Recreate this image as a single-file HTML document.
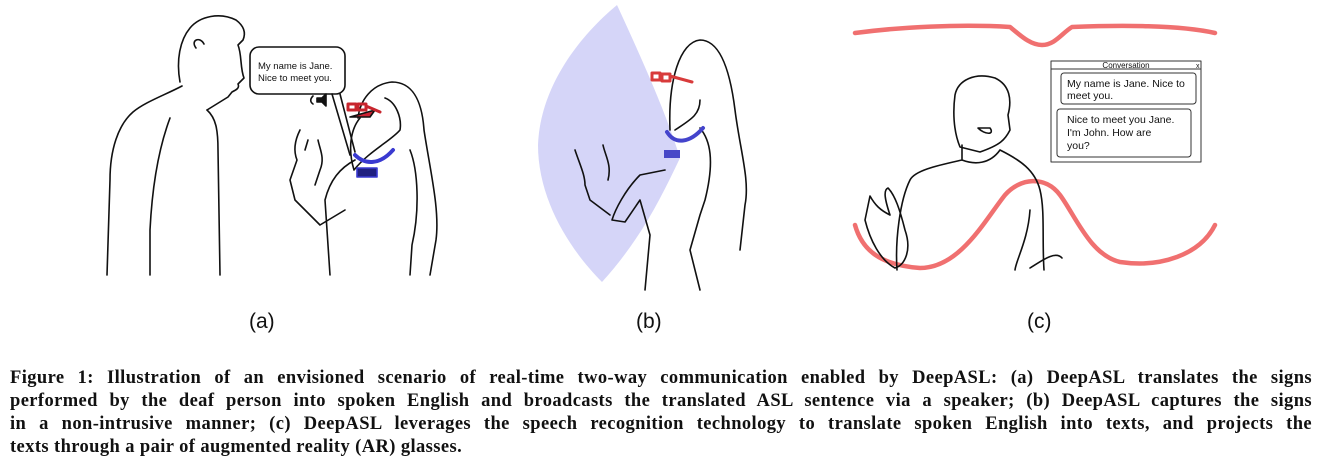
<!DOCTYPE html>
<html><head><meta charset="utf-8"><style>
body{margin:0;width:1325px;height:472px;background:#fff;overflow:hidden;position:relative}
svg{position:absolute;left:0;top:0}
.cap{position:absolute;left:10px;width:1302px;font-family:"Liberation Serif",serif;font-weight:bold;font-size:18.5px;letter-spacing:0.4px;line-height:23px;text-align:justify;text-align-last:justify;white-space:nowrap;color:#111}
.lbl{position:absolute;top:310px;font-family:"Liberation Sans",sans-serif;font-size:21px;color:#111}
</style></head><body>
<svg width="1325" height="472" viewBox="0 0 1325 472" fill="none" stroke="#111" stroke-width="1.6" stroke-linejoin="round" stroke-linecap="round">
<!-- (a) man -->
<path d="M180 82 C176 60 180 40 190 28 C200 16 220 12 236 20 C244 26 246 33 243 40 L238 45 C242 55 240 68 244 78 L238 84 C240 88 236 90 232 92 L228 97 L207 110"/>
<path d="M207 110 C216 118 218 130 218 150 L220 275"/>
<path d="M182 86 C165 95 145 102 133 112 C118 125 110 150 110 180 L107 275"/>
<path d="M170 118 C158 150 152 190 150 230 L150 275"/>
<path d="M196 48 C190 40 200 36 204 44"/>
<!-- bubble a -->
<rect x="250" y="47" width="95" height="47" rx="9" fill="#fff"/>
<path d="M332 94 L350 155 M340 94 L355 152"/>
<path d="M317 98 L322 98 L326 94 L326 106 L322 102 L317 102 Z" fill="#111"/>
<path d="M313 96 C310 99 310 102 313 104" />
<!-- woman a -->
<path d="M358 118 C360 100 372 84 392 82 C412 82 422 100 424 130 C430 170 440 210 436 240 L430 275"/>
<path d="M360 118 C350 130 348 150 354 170 C368 152 392 140 400 130 C402 118 396 102 385 98"/>
<path d="M355 160 C340 168 330 180 325 200 L330 275 M410 150 C418 170 420 210 412 245 L410 275"/>
<path d="M300 130 C295 140 293 150 297 160 L290 180 L295 200 L320 225 L345 210 M318 140 C320 150 325 158 320 170 L315 185 M308 140 L305 150"/>
<path d="M350 117 L375 110 L370 117 Z" fill="#c23"/>
<g stroke="#c8262e" stroke-width="3"><path d="M348 104 h8 v6 h-8z M358 104 h8 v6 h-8z M366 106 L380 112"/></g>
<path d="M355 155 C365 165 380 165 393 150" stroke="#3a3ad0" stroke-width="4"/>
<rect x="357" y="168" width="20" height="9" fill="#202080" stroke="#3a3ad0"/>
<!-- (b) wedge -->
<path d="M617 5 C575 40 540 90 538 145 C538 200 570 250 602 282 C640 240 660 200 680 158 C665 110 640 55 617 5 Z" fill="#d5d5f8" stroke="none"/>
<path d="M670 130 C668 80 680 42 700 40 C720 40 730 70 735 110 C740 150 750 180 745 205 L740 250 M675 130 C690 120 700 115 700 100 M665 170 L640 175 C625 190 615 210 612 220 L625 222 L640 200 L650 235 L645 290 M700 128 C710 140 715 160 705 200 L700 215 L690 250 L700 290 M575 150 C580 165 585 175 585 185 L590 200 L610 215 M603 145 C605 155 612 165 608 180"/>
<g stroke="#d83b3b" stroke-width="3"><path d="M652 73 h8 v7 h-8z M662 74 h8 v7 h-8z M670 76 L692 82"/></g>
<path d="M667 132 C675 145 690 143 703 128" stroke="#4444cc" stroke-width="4"/>
<rect x="664" y="150" width="16" height="8" fill="#4848c8" stroke="none"/>
<!-- (c) glasses -->
<g stroke="#f07070" stroke-width="4.5">
<path d="M855 33 C900 27 960 24 1010 27 C1020 35 1030 45 1042 45 C1055 45 1062 33 1072 27 C1120 25 1180 25 1215 33"/>
<path d="M855 225 C862 250 880 265 920 268 C960 268 985 220 1005 195 C1020 178 1045 175 1060 195 C1075 215 1090 255 1120 262 C1160 268 1200 255 1215 225"/>
</g>
<!-- (c) man -->
<path d="M960 147 C953 130 953 110 955 95 C958 80 975 72 995 78 C1010 85 1012 100 1008 115 L1010 130 C1005 140 1000 145 980 152 L960 147 Z"/>
<path d="M962 145 L962 160 C975 165 990 164 1000 150 M962 160 C940 165 915 170 910 180 C900 200 895 240 897 270 M1000 150 C1020 160 1035 170 1040 190 C1045 210 1042 240 1044 270 M1030 210 C1028 240 1016 260 1015 270"/>
<path d="M870 196 C875 205 880 210 890 215 C885 200 883 190 888 188 C895 195 900 210 905 230 C912 250 905 265 895 268 C880 260 870 240 865 220 Z"/>
<path d="M978 128 C985 135 995 135 990 128 Z"/>
<path d="M1030 268 C1040 262 1055 250 1062 258"/>
<!-- conversation box -->
<g stroke="#333" stroke-width="1">
<rect x="1051" y="61" width="150" height="101" fill="#fff"/>
<line x1="1051" y1="69" x2="1201" y2="69"/>
<rect x="1061" y="73" width="135" height="31" rx="3" fill="#fff"/>
<rect x="1057" y="109" width="134" height="48" rx="3" fill="#fff"/>
</g>
<g fill="#111" stroke="none" font-family="Liberation Sans, DejaVu Sans, sans-serif">
<text x="1126" y="68" font-size="8" text-anchor="middle">Conversation</text>
<text x="1196" y="68" font-size="7">x</text>
<text x="1067" y="87" font-size="10.5">My name is Jane. Nice to</text>
<text x="1067" y="99" font-size="10.5">meet you.</text>
<text x="1067" y="123" font-size="10.5">Nice to meet you Jane.</text>
<text x="1067" y="136" font-size="10.5">I'm John. How are</text>
<text x="1067" y="149" font-size="10.5">you?</text>
<text x="258" y="69" font-size="9.5">My name is Jane.</text>
<text x="258" y="81" font-size="9.5">Nice to meet you.</text>
</g>
</svg>
<div class="lbl" style="left:249px">(a)</div>
<div class="lbl" style="left:636px">(b)</div>
<div class="lbl" style="left:1027px">(c)</div>
<div class="cap" style="top:367px">Figure 1: Illustration of an envisioned scenario of real-time two-way communication enabled by DeepASL: (a) DeepASL translates the signs</div>
<div class="cap" style="top:390px">performed by the deaf person into spoken English and broadcasts the translated ASL sentence via a speaker; (b) DeepASL captures the signs</div>
<div class="cap" style="top:413px">in a non-intrusive manner; (c) DeepASL leverages the speech recognition technology to translate spoken English into texts, and projects the</div>
<div class="cap" style="top:436px;text-align-last:left;width:auto">texts through a pair of augmented reality (AR) glasses.</div>
</body></html>
